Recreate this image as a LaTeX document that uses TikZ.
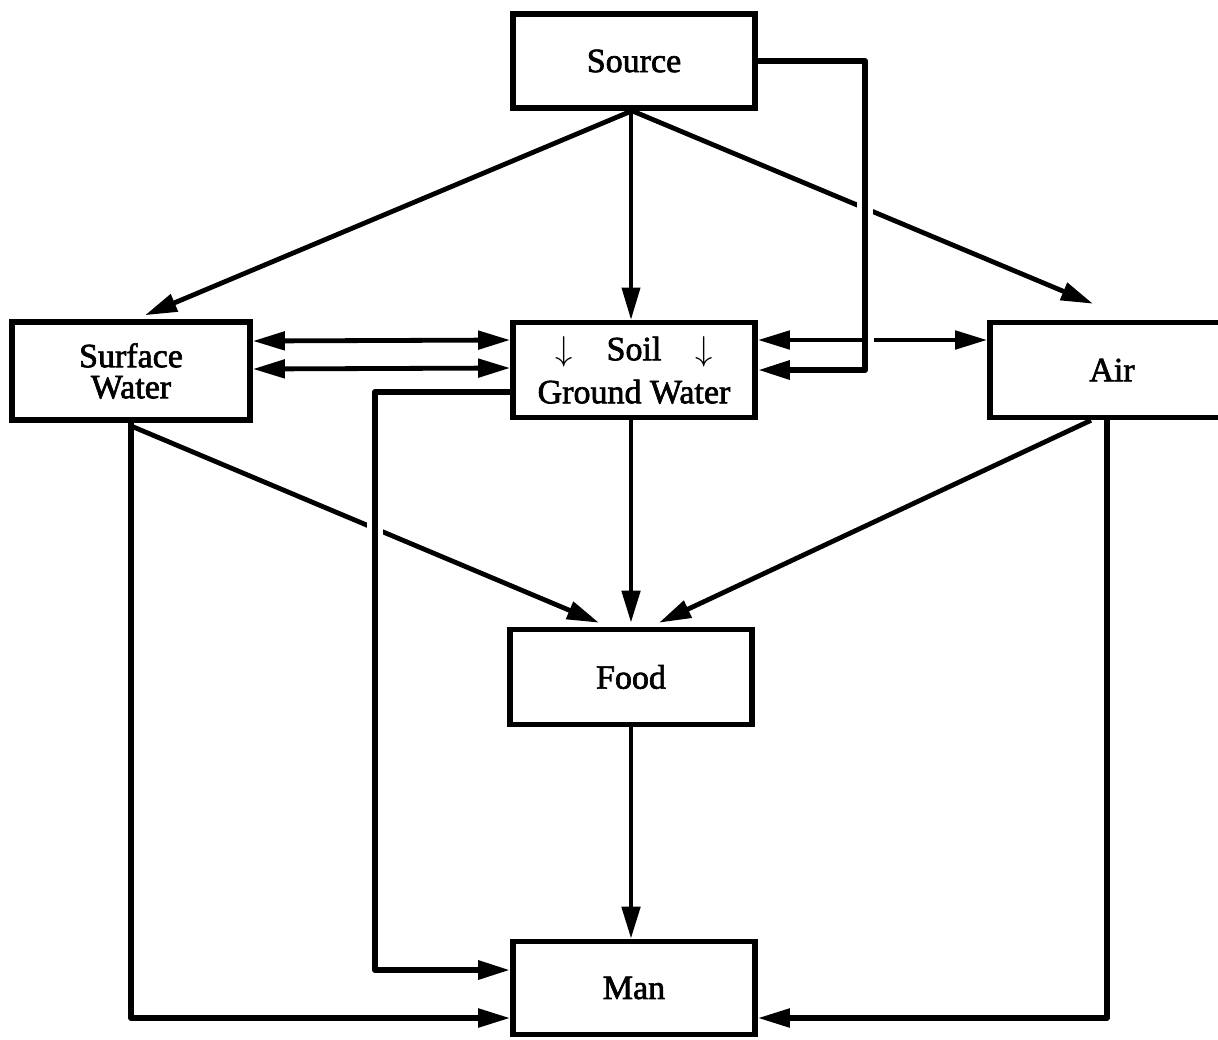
\documentclass[tikz,border=0pt]{standalone}
\usepackage{fontspec}
\setmainfont{Liberation Serif}[FakeBold=2]
\usetikzlibrary{arrows.meta,calc}
\begin{document}
\begin{tikzpicture}[x=0.5pt,y=-0.5pt,
  box/.style={draw,line width=2.8pt,rectangle,inner sep=0pt,align=center,font=\fontsize{17}{20}\selectfont},
  conn/.style={line width=2.4pt,line join=round,-{Triangle[length=16pt,width=9pt]}},
  bconn/.style={line width=2.4pt,line join=round,{Triangle[length=16pt,width=9pt]}-{Triangle[length=16pt,width=9pt]}},
  thick conn/.style={conn,line width=3pt},
  gap/.style={draw=white,line width=8pt}]
\useasboundingbox (0,0) rectangle (1218,1039);
\fill[white] (0,0) rectangle (1218,1039);
% nodes
\node[box,minimum width=121pt,minimum height=47pt] (src) at (634,61) {Source};
\node[box,minimum width=119pt,minimum height=49pt,font=\fontsize{17}{15.5}\selectfont] (sw) at (131,371) {Surface\\Water};
\node[box,minimum width=121pt,minimum height=47.5pt,font=\fontsize{17}{21.5}\selectfont] (soil) at (634,370) {$\downarrow$\hspace{1em}Soil\hspace{1em}$\downarrow$\\Ground Water};
\node[box,minimum width=117pt,minimum height=47.5pt] (air) at (1107,370) {\hspace{5pt}Air};
\node[box,minimum width=121pt,minimum height=47.5pt] (food) at (631,677) {Food};
\node[box,minimum width=121pt,minimum height=46.5pt] (man) at (634,988) {Man};
% diagonals from source
\draw[conn] ([xshift=-1pt]src.south) -- ([xshift=7pt,yshift=2pt]sw.north);
\draw[conn,line width=1.8pt] ([xshift=-1.5pt]src.south) -- ([xshift=-1.5pt]soil.north);
\draw[conn] ([xshift=-1pt]src.south) -- ([xshift=-7pt,yshift=8pt]air.north);
% into food
\draw[conn] ([xshift=1pt,yshift=-2pt]sw.south) -- ([xshift=-16pt,yshift=2pt]food.north);
\draw[conn] ([xshift=-1.5pt]soil.south) -- ([yshift=2pt]food.north);
\draw[conn] ([xshift=-8pt]air.south) -- ([xshift=14pt,yshift=2pt]food.north);
% surface water <-> soil
\draw[bconn] ($(sw.east)+(0,-30)$) -- ($(soil.west)+(0,-30)$);
\draw[bconn] ($(sw.east)+(0,-2)$) -- ($(soil.west)+(0,-2)$);
% soil <-> air
\draw[bconn] ($(soil.east)+(0,-30)$) -- ($(air.west)+(0,-30)$);
% gaps at crossings
\draw[gap] (375,500) -- (375,555);
\draw[gap] (865,185) -- (865,230);
\draw[draw=white,line width=4pt] (870,330) -- (870,350);
% source loop to soil
\coordinate (j) at (865,370);
\draw[thick conn] (src.east) -| (j) -- (soil.east);
% soil to man
\coordinate (k) at (375,970);
\draw[thick conn] ($(soil.west)+(0,22)$) -| (k) -- ($(man.west)+(0,-18)$);
% surface water to man
\draw[conn,line width=2.6pt] (sw.south) |- ($(man.west)+(0,30)$);
% air to man
\draw[conn,line width=2.6pt] (air.south) |- ($(man.east)+(0,30)$);
% food to man
\draw[conn] (food.south) -- ([xshift=-1.5pt]man.north);
\end{tikzpicture}
\end{document}
